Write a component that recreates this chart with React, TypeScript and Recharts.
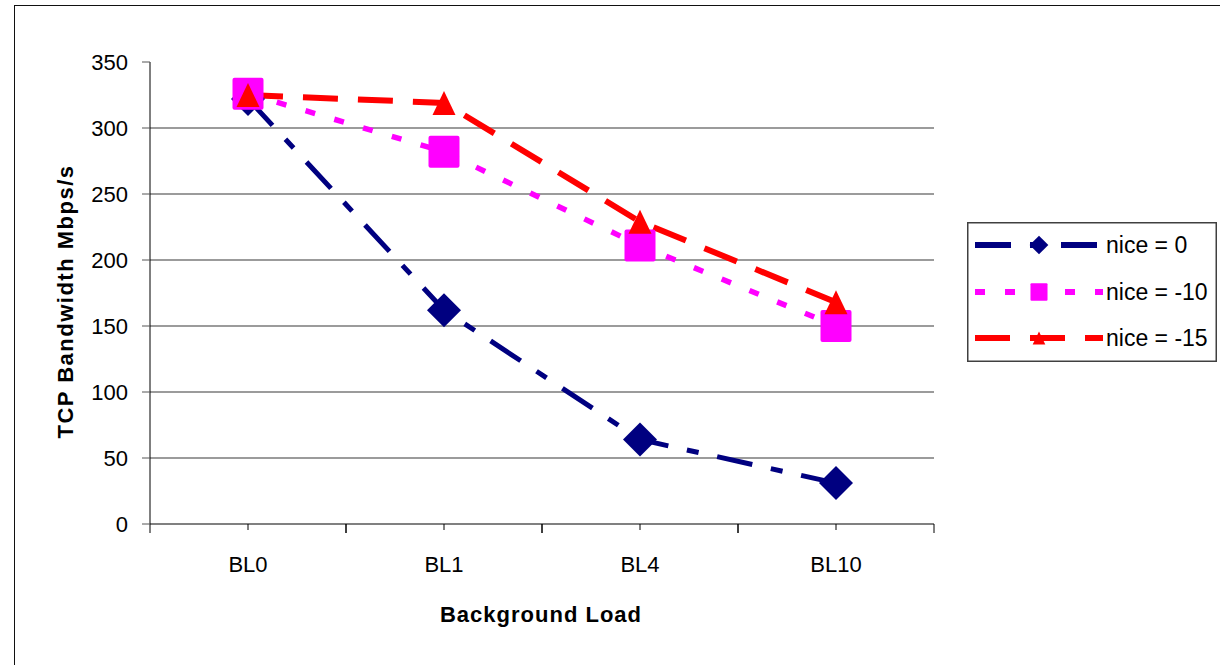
import React from 'react';
import { LineChart, Line, XAxis, YAxis, ReferenceLine, Legend, Label } from 'recharts';

const categories = ['BL0', 'BL1', 'BL4', 'BL10'];
const nice0 = [322, 162, 64, 31];
const nice10 = [326, 282, 211, 150];
const nice15 = [325, 319, 229, 168];
const yTicks = [0, 50, 100, 150, 200, 250, 300, 350];
const gridValues = [50, 100, 150, 200, 250, 300];
const seriesNames = ['nice = 0', 'nice = -10', 'nice = -15'];

const FONT = '"Liberation Sans", Arial, sans-serif';
const CHART_W = 1220;
const CHART_H = 665;
const MARGIN = { top: 62, right: 286, bottom: 0, left: 0 };
const Y_AXIS_W = 150;
const X_AXIS_H = 141;
const PLOT_W = CHART_W - MARGIN.left - MARGIN.right - Y_AXIS_W;
const HALF_BAND = PLOT_W / categories.length / 2;

const data = categories.map((c, i) => ({ name: c, s0: nice0[i], s1: nice10[i], s2: nice15[i] }));

type Marker = 'diamond' | 'square' | 'triangle';
const series: { key: string; name: string; color: string; dash: string; width: number; marker: Marker }[] = [
  { key: 's0', name: seriesNames[0], color: '#000080', dash: '36 19 12 19', width: 5, marker: 'diamond' },
  { key: 's1', name: seriesNames[1], color: '#FF00FF', dash: '10 20', width: 5.5, marker: 'square' },
  { key: 's2', name: seriesNames[2], color: '#FF0000', dash: '35 20', width: 6, marker: 'triangle' },
];

function MarkerShape({ type, cx, cy, color, scale }: { type: Marker; cx: number; cy: number; color: string; scale: number }) {
  if (cx == null || cy == null) return null;
  if (type === 'diamond') {
    const h = 17 * scale;
    return <polygon points={`${cx},${cy - h} ${cx + h},${cy} ${cx},${cy + h} ${cx - h},${cy}`} fill={color} />;
  }
  if (type === 'square') {
    const w = 31 * scale;
    const hh = 32 * scale;
    return <rect x={cx - w / 2} y={cy - hh / 2} width={w} height={hh} rx={2 * scale} fill={color} />;
  }
  const tw = 23 * scale;
  const th = 24 * scale;
  return <polygon points={`${cx},${cy - th / 2} ${cx + tw / 2},${cy + th / 2} ${cx - tw / 2},${cy + th / 2}`} fill={color} />;
}

const XTick = (props: any) => {
  const { x, y, payload } = props;
  return (
    <g>
      <line x1={x} y1={y} x2={x} y2={y + 6} stroke="#000" strokeWidth={1} />
      <line x1={x - HALF_BAND} y1={y} x2={x - HALF_BAND} y2={y + 9} stroke="#000" strokeWidth={1} />
      <line x1={x + HALF_BAND} y1={y} x2={x + HALF_BAND} y2={y + 9} stroke="#000" strokeWidth={1} />
      <text x={x} y={y + 48} textAnchor="middle" fontFamily={FONT} fontSize={22} fill="#000">
        {payload.value}
      </text>
    </g>
  );
};

const YTick = (props: any) => {
  const { x, y, payload } = props;
  return (
    <g>
      <line x1={x - 8} y1={y} x2={x} y2={y} stroke="#555" strokeWidth={1} />
      <text x={x - 22} y={y + 7.5} textAnchor="end" fontFamily={FONT} fontSize={22} fill="#000">
        {payload.value}
      </text>
    </g>
  );
};

const YTitle = (props: any) => {
  const vb = props.viewBox || { x: 0, y: 62, width: 150, height: 462 };
  const cx = vb.x + 73;
  const cy = vb.y + vb.height / 2 + 8.5;
  return (
    <text
      x={cx}
      y={cy}
      transform={`rotate(-90 ${cx} ${cy})`}
      textAnchor="middle"
      fontFamily={FONT}
      fontSize={22}
      fontWeight="bold"
      style={{ letterSpacing: '1.5px' }}
      fill="#000"
    >
      TCP Bandwidth Mbps/s
    </text>
  );
};

const XTitle = (props: any) => {
  const vb = props.viewBox || { x: 150, y: 524, width: 784, height: 141 };
  const cx = vb.x + vb.width / 2 - 1;
  const cy = vb.y + 98;
  return (
    <text
      x={cx}
      y={cy}
      textAnchor="middle"
      fontFamily={FONT}
      fontSize={22}
      fontWeight="bold"
      style={{ letterSpacing: '1px' }}
      fill="#000"
    >
      Background Load
    </text>
  );
};

const LegendBox = () => {
  const rowY = [23, 70, 116];
  return (
    <svg width={250} height={140} style={{ display: 'block' }}>
      <rect x={0.75} y={0.75} width={248.5} height={138.5} fill="#fff" stroke="#404040" strokeWidth={1.5} />
      {series.map((s, i) => (
        <g key={s.key}>
          <line x1={8} y1={rowY[i]} x2={136} y2={rowY[i]} stroke={s.color} strokeWidth={6} strokeDasharray={s.dash} />
          <MarkerShape type={s.marker} cx={72} cy={rowY[i]} color={s.color} scale={0.55} />
          <text x={139} y={rowY[i] + 7.5} fontFamily={FONT} fontSize={23} fill="#000">
            {s.name}
          </text>
        </g>
      ))}
    </svg>
  );
};

export default function App() {
  return (
    <div
      style={{
        position: 'absolute',
        left: 0,
        top: 0,
        width: CHART_W,
        height: CHART_H,
        overflow: 'hidden',
        background: '#fff',
      }}
    >
      <div
        style={{
          position: 'absolute',
          left: 14,
          top: 5,
          width: 1400,
          height: 1000,
          border: '1.5px solid #111',
        }}
      />
      <div style={{ position: 'absolute', left: 0, top: 0 }}>
        <LineChart width={CHART_W} height={CHART_H} data={data} margin={MARGIN}>
          {gridValues.map((v) => (
            <ReferenceLine key={v} y={v} stroke="#7a7a7a" strokeWidth={1.5} ifOverflow="visible" />
          ))}
          <XAxis
            dataKey="name"
            padding={{ left: HALF_BAND, right: HALF_BAND }}
            height={X_AXIS_H}
            tickSize={0}
            tickMargin={0}
            tickLine={false}
            interval={0}
            axisLine={{ stroke: '#808080', strokeWidth: 2 }}
            tick={(p: any) => <XTick {...p} />}
          >
            <Label content={(p: any) => <XTitle {...p} />} />
          </XAxis>
          <YAxis
            type="number"
            domain={[0, 350]}
            ticks={yTicks}
            interval={0}
            width={Y_AXIS_W}
            tickSize={0}
            tickMargin={0}
            tickLine={false}
            axisLine={{ stroke: '#000', strokeWidth: 1 }}
            tick={(p: any) => <YTick {...p} />}
          >
            <Label content={(p: any) => <YTitle {...p} />} />
          </YAxis>
          {series.map((s) => (
            <Line
              key={s.key}
              type="linear"
              dataKey={s.key}
              name={s.name}
              stroke={s.color}
              strokeWidth={s.width}
              strokeDasharray={s.dash}
              strokeLinecap="butt"
              isAnimationActive={false}
              activeDot={false}
              dot={(p: any) => (
                <MarkerShape key={`${s.key}-${p.index}`} type={s.marker} cx={p.cx} cy={p.cy} color={s.color} scale={1} />
              )}
            />
          ))}
          <Legend
            layout="vertical"
            align="center"
            verticalAlign="middle"
            content={() => <LegendBox />}
            wrapperStyle={{ position: 'absolute', left: 967, top: 222, width: 250, height: 140 }}
          />
        </LineChart>
      </div>
    </div>
  );
}
